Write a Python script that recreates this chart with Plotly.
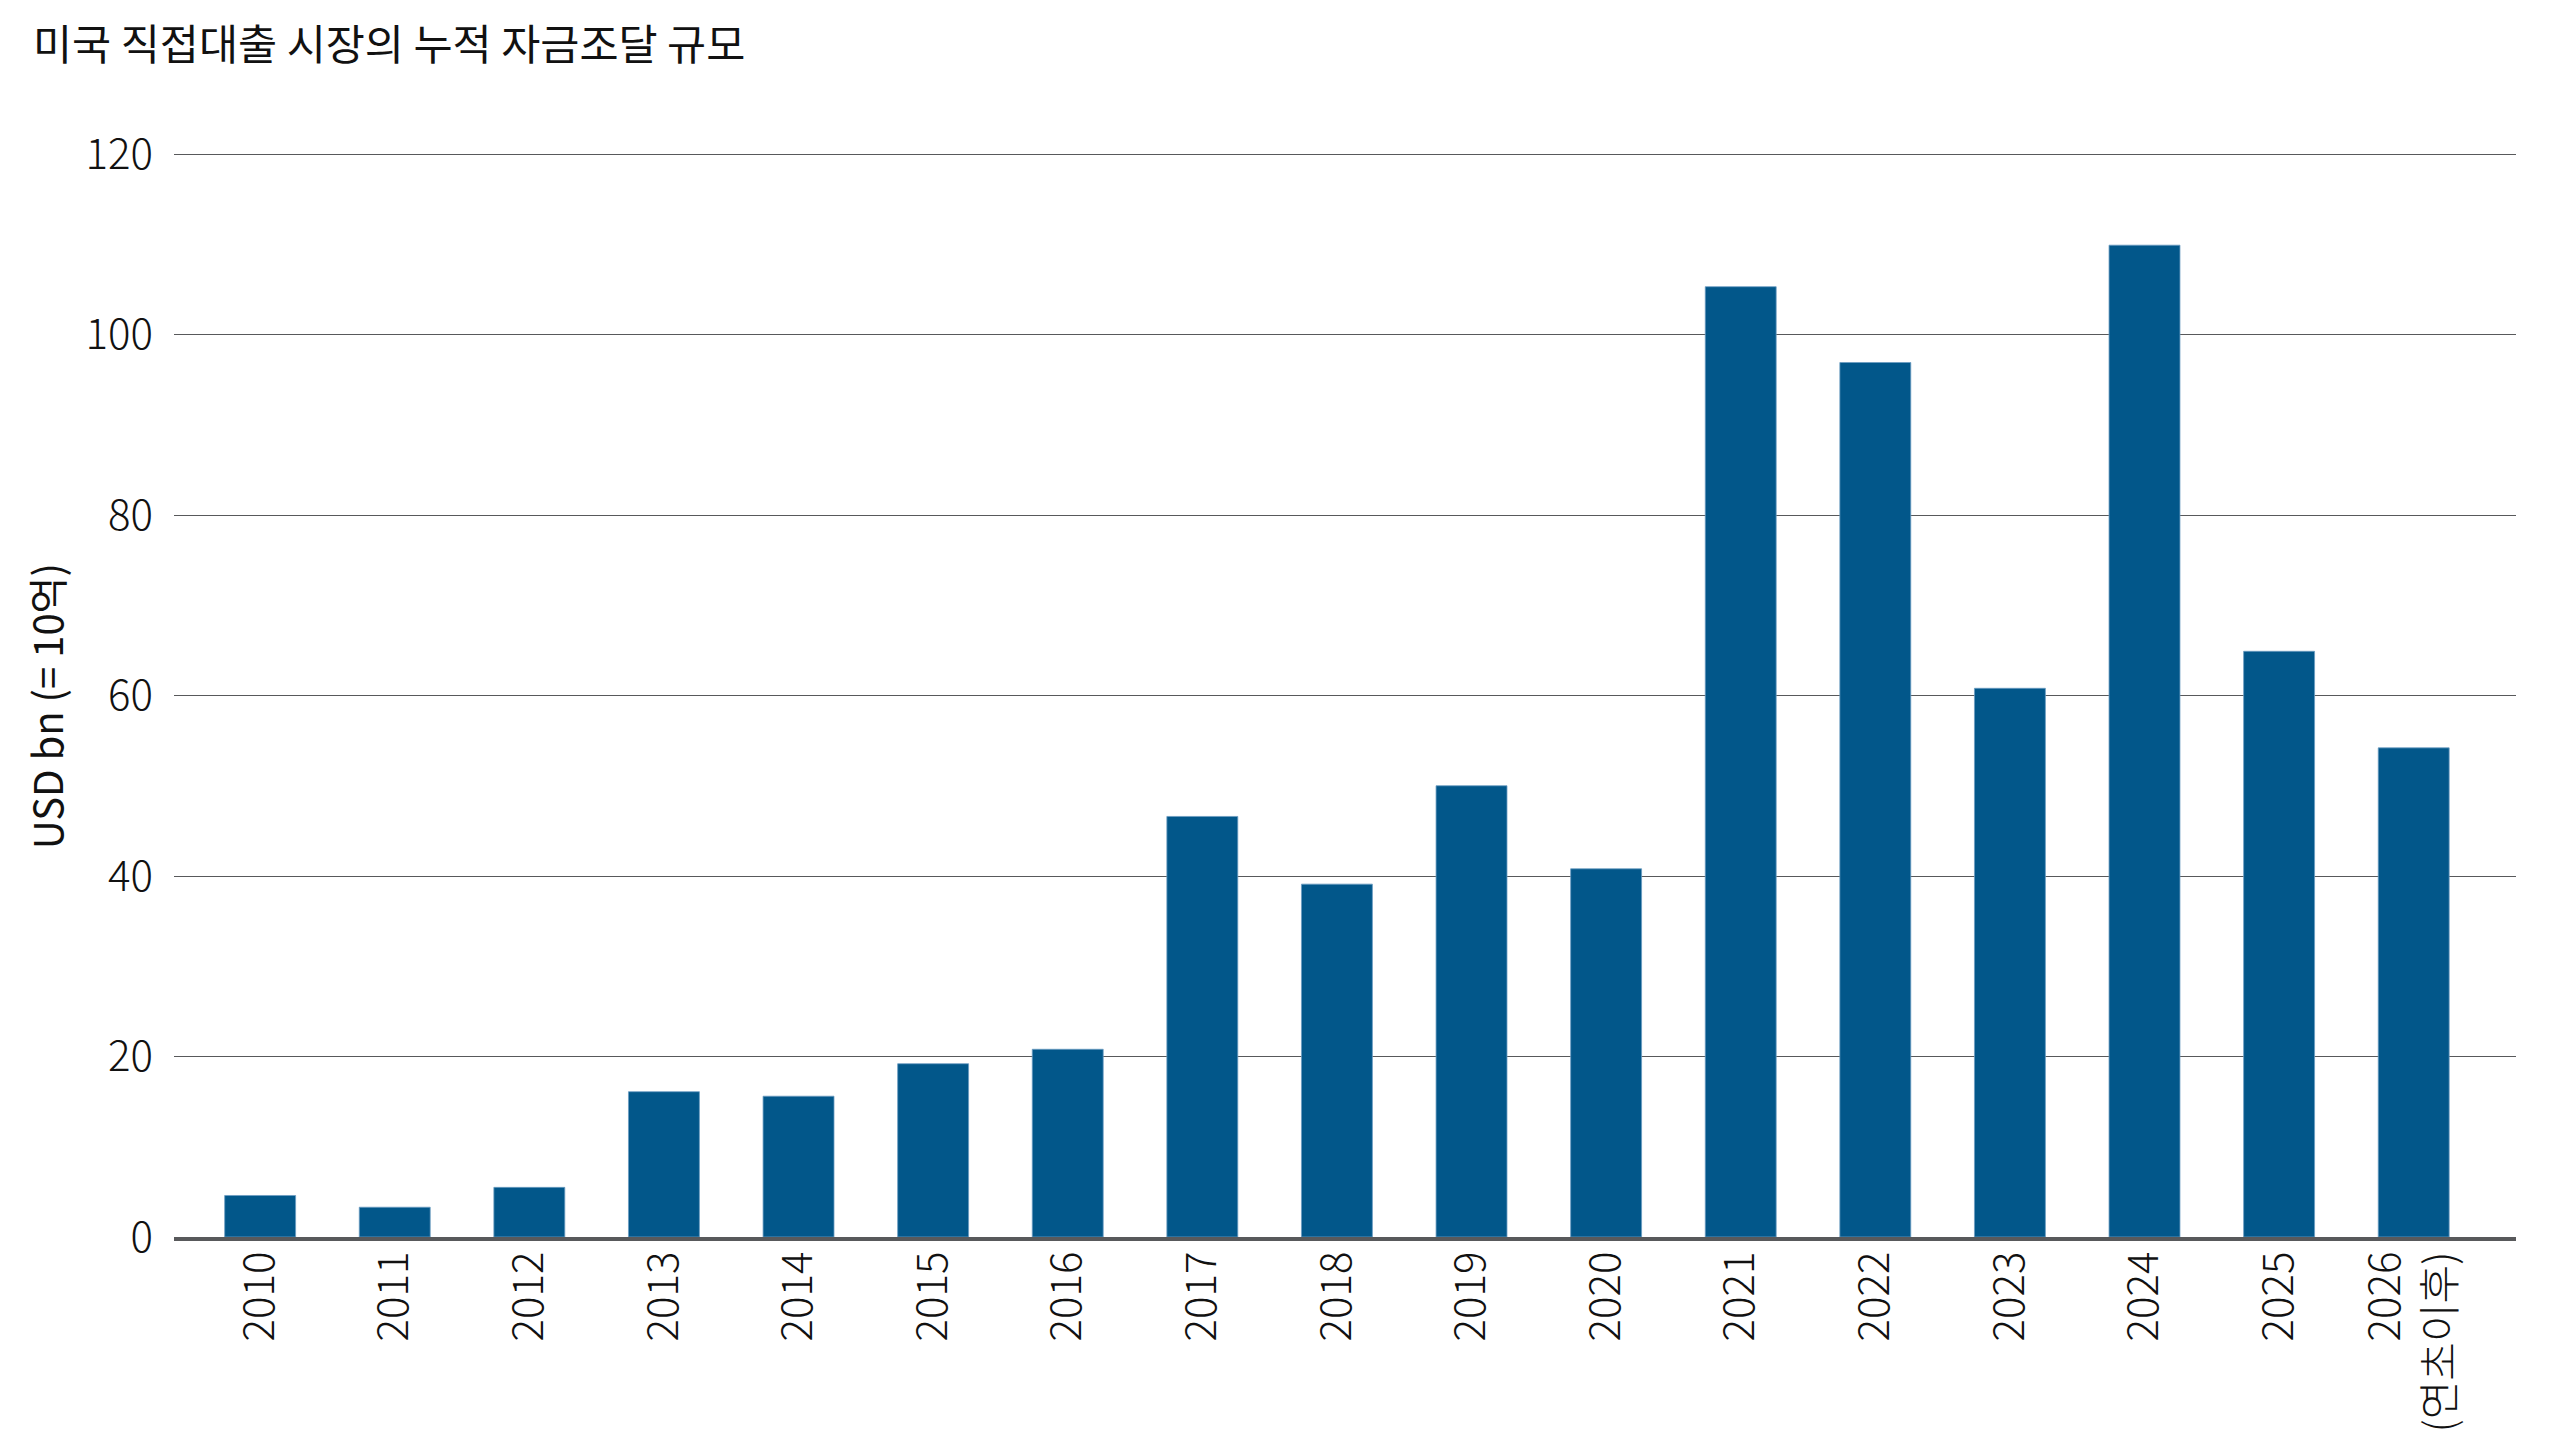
import plotly.graph_objects as go

categories = ["2010", "2011", "2012", "2013", "2014", "2015", "2016", "2017", "2018",
              "2019", "2020", "2021", "2022", "2023", "2024", "2025", "2026<br>(연초이후)"]
values = [4.6, 3.3, 5.5, 16.1, 15.6, 19.2, 20.8, 46.6, 39.1,
          50.0, 40.8, 105.3, 96.9, 60.8, 109.9, 64.9, 54.2]
y_ticks = [0, 20, 40, 60, 80, 100, 120]

title_text = "미국 직접대출 시장의 누적 자금조달 규모"
y_title = "USD bn (= 10억)"

FONT = "Noto Sans CJK KR"
BAR = "#02578A"
GRID = "#58595B"

W, H = 2560, 1440
ml, mr, mt, mb = 174, 44, 144.5, 203

fig = go.Figure()
fig.add_trace(go.Bar(
    x=categories, y=values,
    marker=dict(color=BAR, line=dict(color="#6b9cc2", width=0.8)),
    hoverinfo="x+y",
))

fig.update_layout(
    width=W, height=H,
    margin=dict(l=ml, r=mr, t=mt, b=mb, pad=0),
    paper_bgcolor="white", plot_bgcolor="white",
    font=dict(family=FONT, size=42, color="#111111", weight=300),
    bargap=0.473,
    showlegend=False,
    title=dict(text=title_text, xref="container", yref="container",
               x=33 / W, y=1 - 45 / H, xanchor="left", yanchor="middle",
               font=dict(family=FONT, size=42.5, color="#111111", weight=400)),
)

fig.update_xaxes(
    type="category",
    range=[-0.64, 16.76],
    tickangle=-90,
    showgrid=False,
    showline=True, linecolor=GRID, linewidth=3.5,
    ticks="", ticklabelstandoff=-6,
    tickfont=dict(family=FONT, size=42, color="#111111", weight=300),
    zeroline=False,
    automargin=False,
)

fig.update_yaxes(
    range=[0, 121],
    tickvals=y_ticks,
    showgrid=True, gridcolor=GRID, gridwidth=1.4,
    zeroline=False, showline=False,
    ticks="", ticklabelstandoff=20,
    tickfont=dict(family=FONT, size=42, color="#111111", weight=300),
    automargin=False,
)

fig.add_annotation(
    text=y_title, textangle=-90,
    xref="paper", yref="paper",
    x=(46 - ml) / (W - ml - mr), y=(1237 - 706) / (1237 - 153.5) * (120 / 121),
    xanchor="center", yanchor="middle", showarrow=False,
    font=dict(family=FONT, size=40, color="#111111", weight=400),
)

fig.write_html("out.html")
